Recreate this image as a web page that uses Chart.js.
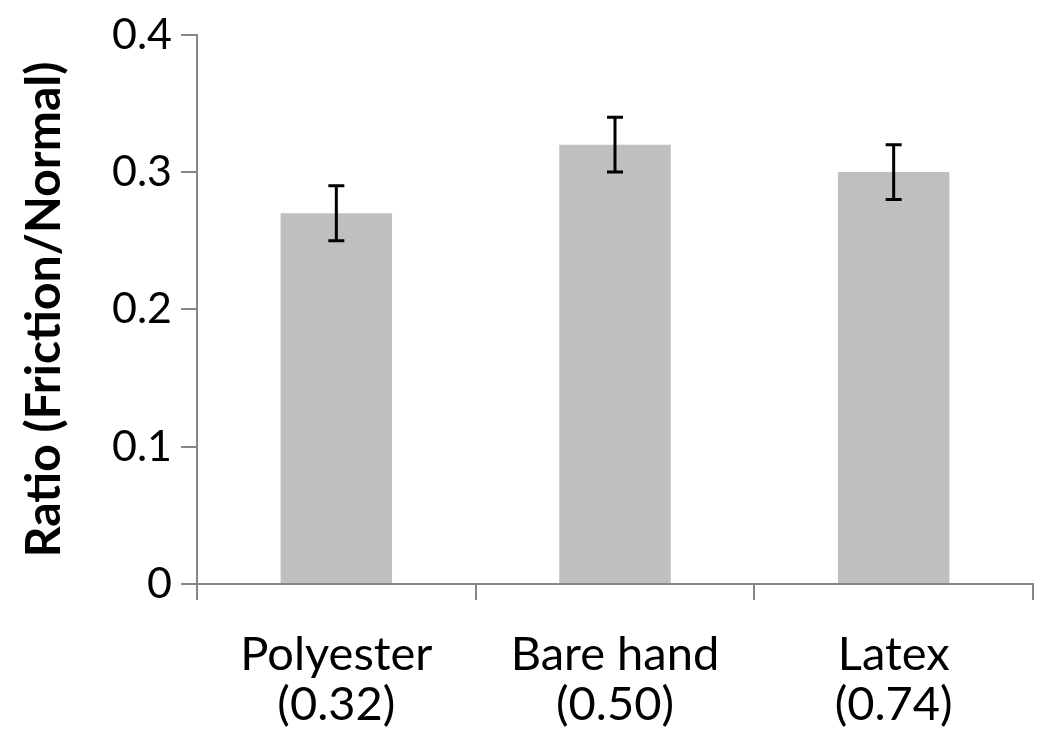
<!DOCTYPE html>
<html>
<head>
<meta charset="utf-8">
<script src="https://cdn.jsdelivr.net/npm/chart.js@4"></script>
<style>
  body { margin: 0; background: #fff; }
  #wrap { width: 1050px; height: 741px; }
</style>
</head>
<body>
<div id="wrap"><canvas id="ratio_chart"></canvas></div>
<script>
const categories = [["Polyester", "(0.32)"], ["Bare hand", "(0.50)"], ["Latex", "(0.74)"]];
const ratios = [0.27, 0.32, 0.30];
const errors = [0.02, 0.02, 0.02];
const yTicks = [0, 0.1, 0.2, 0.3, 0.4];

// error bars drawn on top of the bars
const errorBars = {
    id: 'errorBars',
    afterDatasetsDraw(chart) {
        const ctx = chart.ctx;
        const y = chart.scales.y;
        const meta = chart.getDatasetMeta(0);
        ctx.save();
        ctx.strokeStyle = "#000";
        ctx.lineWidth = 3;
        meta.data.forEach((bar, i) => {
            const top = y.getPixelForValue(ratios[i] + errors[i]);
            const bottom = y.getPixelForValue(ratios[i] - errors[i]);
            ctx.beginPath();
            ctx.moveTo(bar.x, top);
            ctx.lineTo(bar.x, bottom);
            ctx.moveTo(bar.x - 8, top);
            ctx.lineTo(bar.x + 8, top);
            ctx.moveTo(bar.x - 8, bottom);
            ctx.lineTo(bar.x + 8, bottom);
            ctx.stroke();
        });
        ctx.restore();
    }
};

new Chart("ratio_chart", {
    type: "bar",
    data: {
        labels: categories,
        datasets: [{
            data: ratios,
            backgroundColor: "#bfbfbf",
            categoryPercentage: 0.4,
            barPercentage: 1.0
        }]
    },
    options: {
        responsive: true,
        maintainAspectRatio: false,
        animation: false,
        layout: { padding: { top: 33, right: 17, left: 0, bottom: 0 } },
        plugins: {
            legend: { display: false },
            tooltip: { enabled: false }
        },
        scales: {
            x: {
                grid: {
                    offset: true,
                    drawOnChartArea: false,
                    color: "#868686",
                    lineWidth: 2,
                    tickLength: 16
                },
                border: { color: "#868686", width: 2 },
                ticks: {
                    color: "#000",
                    font: { family: "Lato", size: 47, lineHeight: 1.06 },
                    padding: 30,
                    maxRotation: 0
                },
                afterFit(scale) { scale.height = 157; }
            },
            y: {
                min: 0,
                max: 0.4,
                afterBuildTicks(scale) { scale.ticks = yTicks.map(v => ({ value: v })); },
                grid: {
                    drawOnChartArea: false,
                    color: "#868686",
                    lineWidth: 2,
                    tickLength: 16
                },
                border: { color: "#868686", width: 2 },
                ticks: {
                    color: "#000",
                    font: { family: "Lato", size: 43 },
                    padding: 9,
                    callback: v => v === 0 ? "0" : v.toFixed(1)
                },
                title: {
                    display: true,
                    text: "Ratio (Friction/Normal)",
                    color: "#000",
                    font: { family: "Lato", size: 48, weight: "bold" },
                    padding: { top: 16, bottom: 0 }
                },
                afterFit(scale) { scale.width = 197; }
            }
        }
    },
    plugins: [errorBars]
});
</script>
</body>
</html>
